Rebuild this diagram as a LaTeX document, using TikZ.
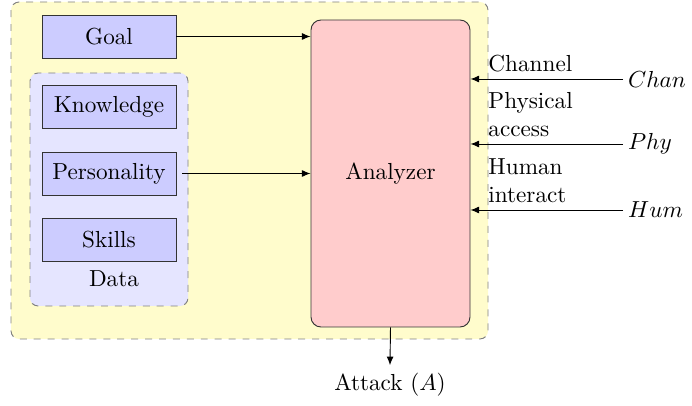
\documentclass[tikz,border=0pt]{standalone}
\usetikzlibrary{arrows.meta}
\begin{document}
\begin{tikzpicture}[x=0.431pt,y=-0.431pt,
  group/.style={draw=gray, dashed, rounded corners=3.5pt, line width=0.4pt},
  item/.style={draw=black!80, fill=blue!20, minimum width=134*0.431pt, minimum height=43*0.431pt, inner sep=0pt},
  arr/.style={-{Latex[length=3.7pt,width=3pt]}, line width=0.4pt},
  side/.style={anchor=south west, align=left, text width=80*0.431pt, inner sep=0pt}]
\useasboundingbox (0,0) rectangle (692,406);
% outer and inner groups
\draw[group, fill=yellow!20] (11,2) rectangle (488,339);
\draw[group, fill=blue!10] (30,73) rectangle (188,306);
% source blocks
\node[item] (goal) at (109,36.5) {Goal};
\node[item] (know) at (109,107) {Knowledge};
\node[item] (pers) at (109,173.5) {Personality};
\node[item] (skills) at (109,239.5) {Skills};
\node (data) at (114,279) {Data};
% analyzer
\node[draw=black!80, fill=red!20, rounded corners=4.3pt, minimum width=159*0.431pt, minimum height=307*0.431pt] (ana) at (390.5,173.5) {Analyzer};
% inputs from the left
\draw[arr] (goal.east) -- (goal.east -| ana.west);
\draw[arr, shorten <=6*0.431pt] (pers.east) -- (pers.east -| ana.west);
% inputs from the right
\node[anchor=west, inner sep=2pt] (chan) at (623,79) {$Chan$};
\node[anchor=west, inner sep=2pt] (phy) at (623,144) {$Phy$};
\node[anchor=west, inner sep=2pt] (hum) at (623,210) {$Hum$};
\draw[arr] (chan.west) -- (chan.west -| ana.east);
\draw[arr] (phy.west) -- (phy.west -| ana.east);
\draw[arr] (hum.west) -- (hum.west -| ana.east);
\node[side] (lchan) at (488,72) {Channel};
\node[side] (lphy) at (488,137) {Physical\\access};
\node[side] (lhum) at (488,203) {Human\\interact};
% output
\node (att) at (390,385) {Attack ($A$)};
\draw[arr] (ana.south) -- (att.north);
\end{tikzpicture}
\end{document}
